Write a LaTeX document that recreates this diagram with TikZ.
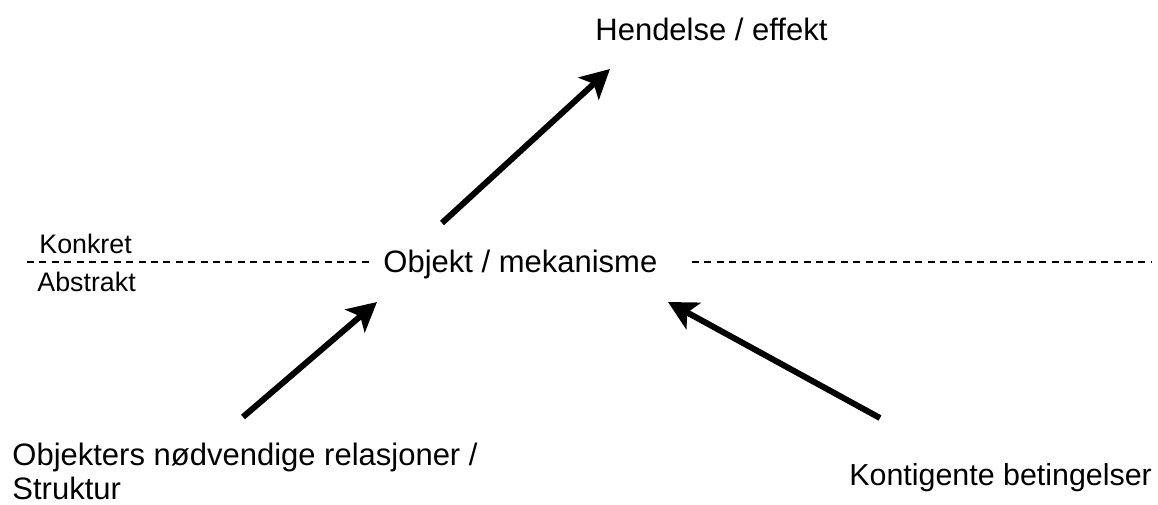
\documentclass[tikz,border=0pt]{standalone}
\usepackage{fontspec}
\setmainfont{Liberation Sans}
\usetikzlibrary{arrows.meta}

\begin{document}
\begin{tikzpicture}[x=0.5pt,y=-0.5pt,
    lbl/.style={inner sep=0pt,anchor=base west,font=\fontsize{15.5pt}{17pt}\selectfont},
    side/.style={inner sep=0pt,anchor=base west,font=\fontsize{13.4pt}{15pt}\selectfont},
    pil/.style={line width=3pt,-{Stealth[length=14.5pt,width=15pt,inset=3.5pt]}},
    skille/.style={line width=0.75pt,dash pattern=on 3.5pt off 2.7pt}]
        \useasboundingbox (0,0) rectangle (1158,504);
        \node[lbl] (hendelse) at (595,40) {Hendelse / effekt};
        \node[lbl] (objekt) at (383,272) {Objekt / mekanisme};
        \node[side] (konkret) at (39,253) {Konkret};
        \node[side] (abstrakt) at (37,291) {Abstrakt};
        \node[lbl,align=left] (struktur) at (12,499) {Objekters nødvendige relasjoner /\\Struktur};
        \node[lbl,font=\fontsize{15.2pt}{17pt}\selectfont] (betingelser) at (849,485) {Kontigente betingelser};
        \coordinate (l1) at (27,262);
        \coordinate (l2) at (370,262);
        \coordinate (r1) at (692,262);
        \coordinate (r2) at (1152,262);
        \coordinate (a1) at (442,223);
        \coordinate (a2) at (610,69);
        \coordinate (b1) at (243,417);
        \coordinate (b2) at (377,302);
        \coordinate (c1) at (880,418);
        \coordinate (c2) at (668,302);
        \draw[skille] (l1) -- (l2);
        \draw[skille] (r1) -- (r2);
        \draw[pil] (a1) -- (a2);
        \draw[pil] (b1) -- (b2);
        \draw[pil] (c1) -- (c2);
    \end{tikzpicture}
\end{document}
